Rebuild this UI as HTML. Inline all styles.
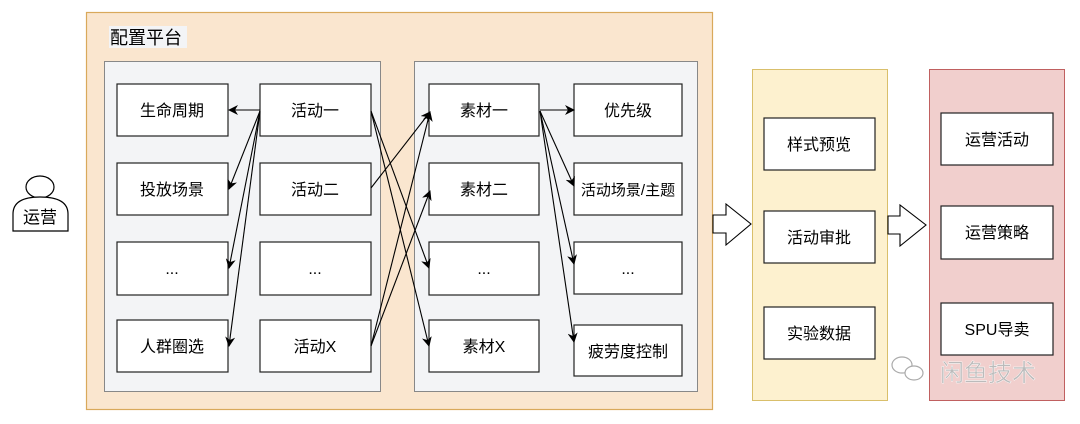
<!DOCTYPE html>
<html><head><meta charset="utf-8"><style>
html,body{margin:0;padding:0;background:#fff;}
svg text{font-family:"Liberation Sans","Noto Sans CJK SC",sans-serif;}
</style></head><body>
<svg width="1080" height="419" viewBox="0 0 1080 419" xmlns="http://www.w3.org/2000/svg">
<defs>
<marker id="a" markerWidth="10" markerHeight="10" refX="9" refY="5" orient="auto" markerUnits="userSpaceOnUse">
<path d="M0,0 L10,5 L0,10 L3,5 Z" fill="#000"/>
</marker>
</defs>
<!-- person -->
<ellipse cx="40" cy="187" rx="14" ry="11" fill="#fff" stroke="#000" stroke-width="1.2"/>
<path d="M13,231 L13,214 Q13,197 40,197 Q68,197 68,214 L68,231 Z" fill="#fff" stroke="#000" stroke-width="1.2"/>
<text x="40" y="223" font-size="17" text-anchor="middle">运营</text>
<!-- outer orange -->
<rect x="86.5" y="12.5" width="626" height="397" fill="#fae6cf" stroke="#d9a95b" stroke-width="1.2"/>
<rect x="109" y="26" width="78" height="22" fill="#f3f4f6"/>
<text x="110" y="44" font-size="18">配置平台</text>
<rect x="104.5" y="61.5" width="276" height="330" fill="#f3f4f6" stroke="#888" stroke-width="1"/>
<rect x="414.5" y="61.5" width="283" height="330" fill="#f3f4f6" stroke="#888" stroke-width="1"/>
<g fill="#fff" stroke="#222" stroke-width="1.2">
<rect x="117" y="84" width="111" height="52"/><rect x="117" y="163" width="111" height="52"/>
<rect x="117" y="242" width="111" height="53"/><rect x="117" y="320" width="111" height="52"/>
<rect x="260" y="84" width="111" height="52"/><rect x="260" y="163" width="111" height="52"/>
<rect x="260" y="242" width="111" height="53"/><rect x="260" y="320" width="111" height="52"/>
<rect x="429" y="84" width="110" height="52"/><rect x="429" y="163" width="110" height="52"/>
<rect x="429" y="242" width="110" height="53"/><rect x="429" y="320" width="110" height="52"/>
<rect x="574" y="84" width="108" height="52"/><rect x="574" y="163" width="108" height="52"/>
<rect x="574" y="242" width="108" height="52"/><rect x="574" y="325" width="108" height="51"/>
</g>
<g font-size="16" text-anchor="middle">
<text x="172" y="116">生命周期</text><text x="172" y="195">投放场景</text>
<text x="172" y="274">...</text><text x="172" y="352">人群圈选</text>
<text x="315" y="116">活动一</text><text x="315" y="195">活动二</text>
<text x="315" y="274">...</text><text x="315" y="352">活动X</text>
<text x="484" y="116">素材一</text><text x="484" y="195">素材二</text>
<text x="484" y="274">...</text><text x="484" y="352">素材X</text>
<text x="628" y="116">优先级</text><text x="628" y="195" font-size="15">活动场景/主题</text>
<text x="628" y="274">...</text><text x="628" y="357">疲劳度控制</text>
</g>
<g stroke="#000" stroke-width="1.1" fill="none" marker-end="url(#a)">
<line x1="260" y1="110" x2="229" y2="110"/>
<line x1="260" y1="111" x2="229" y2="189"/>
<line x1="260" y1="111" x2="229" y2="268"/>
<line x1="260" y1="111" x2="229" y2="346"/>
<line x1="371" y1="111" x2="429" y2="268"/>
<line x1="371" y1="111" x2="429" y2="346"/>
<line x1="371" y1="188" x2="430" y2="112"/>
<line x1="371" y1="346" x2="430" y2="112"/>
<line x1="371" y1="346" x2="430" y2="191"/>
<line x1="540" y1="110" x2="574" y2="110"/>
<line x1="540" y1="111" x2="574" y2="186"/>
<line x1="540" y1="111" x2="574" y2="264"/>
<line x1="540" y1="111" x2="574" y2="342"/>
</g>
<!-- yellow -->
<rect x="752.5" y="69.5" width="135" height="331" fill="#fdf1cf" stroke="#d9bf6b" stroke-width="1"/>
<!-- red -->
<rect x="929.5" y="69.5" width="135" height="331" fill="#f1cfcd" stroke="#c06060" stroke-width="1"/>
<g fill="#fff" stroke="#222" stroke-width="1.2">
<rect x="764" y="118" width="111" height="52"/><rect x="764" y="211" width="111" height="52"/><rect x="764" y="307" width="111" height="52"/>
<rect x="941" y="113" width="112" height="52"/><rect x="941" y="206" width="112" height="53"/><rect x="941" y="303" width="112" height="52"/>
</g>
<g font-size="16" text-anchor="middle">
<text x="819" y="150">样式预览</text><text x="819" y="243">活动审批</text><text x="819" y="339">实验数据</text>
<text x="997" y="145">运营活动</text><text x="997" y="238">运营策略</text><text x="997" y="335">SPU导卖</text>
</g>
<!-- block arrows -->
<path d="M713,215 L726,215 L726,204 L751,224 L726,245 L726,233 L713,233 Z" fill="#fff" stroke="#000" stroke-width="1.1"/>
<path d="M888,216 L900,216 L900,205 L926,225 L900,246 L900,234 L888,234 Z" fill="#fff" stroke="#000" stroke-width="1.1"/>
<!-- watermark -->
<g fill="#fff" stroke="#aaa" stroke-width="1.2">
<ellipse cx="902" cy="365" rx="10" ry="8"/><ellipse cx="914" cy="373" rx="9" ry="7"/>
</g>
<text x="940" y="381" font-size="24" fill="#bbb" stroke="#fff" stroke-width="0.4">闲鱼技术</text>
</svg>
</body></html>
